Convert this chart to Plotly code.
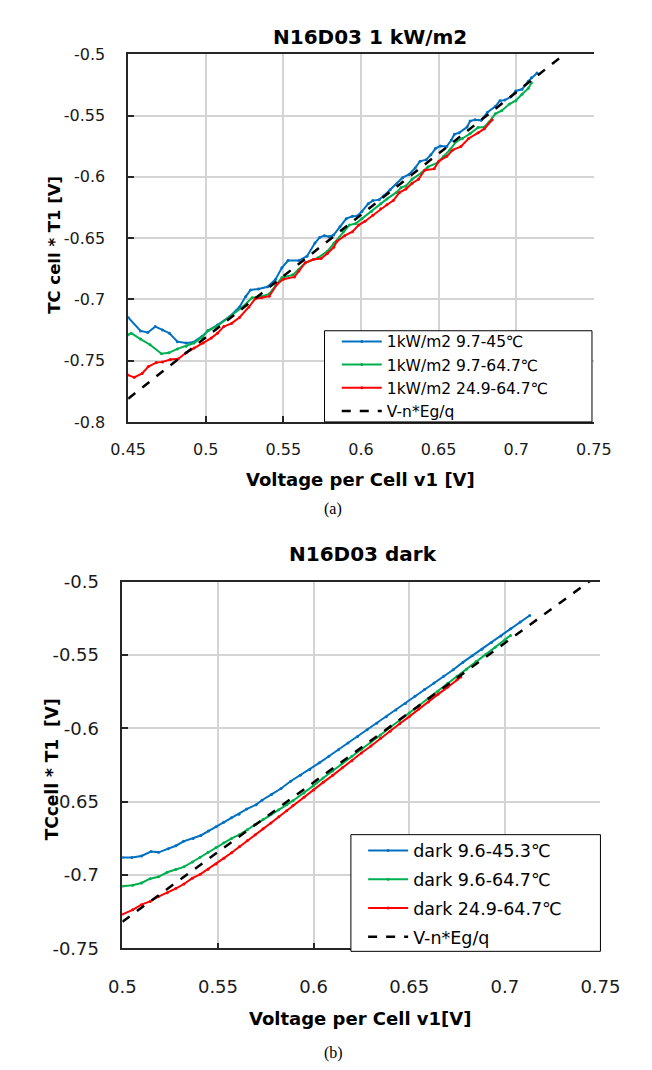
import plotly.graph_objects as go

W, H = 652, 1070

# ---------------- data : (a) 1 kW/m2 ----------------
a_blue_x = [0.450, 0.458, 0.4626, 0.4675, 0.4721, 0.4766, 0.4817, 0.4873, 0.4918, 0.4975, 0.5015, 0.5075,
            0.5157, 0.5217, 0.5257, 0.5288, 0.5339, 0.5399, 0.545, 0.549, 0.553, 0.560, 0.5652, 0.5703,
            0.5733, 0.5763, 0.5794, 0.5824, 0.5864, 0.5905, 0.5945, 0.5975, 0.6006, 0.6046, 0.6076, 0.6117,
            0.6147, 0.6188, 0.6228, 0.6268, 0.6309, 0.6349, 0.638, 0.642, 0.645, 0.6481, 0.6511, 0.6552,
            0.6582, 0.6602, 0.6632, 0.6683, 0.6703, 0.6734, 0.6774, 0.6815, 0.6865, 0.6895, 0.6926, 0.6966,
            0.6997, 0.7037, 0.7078, 0.7098, 0.7134]
a_blue_y = [-0.7147, -0.7257, -0.727, -0.7222, -0.7249, -0.7276, -0.7345, -0.7356, -0.735, -0.7302, -0.7254, -0.721,
            -0.7137, -0.7062, -0.6977, -0.6923, -0.6915, -0.6897, -0.6835, -0.6742, -0.6683, -0.6683, -0.6648, -0.654,
            -0.6496, -0.648, -0.6488, -0.6474, -0.6408, -0.6341, -0.6322, -0.632, -0.6282, -0.622, -0.6194, -0.6186,
            -0.6154, -0.6106, -0.606, -0.6007, -0.598, -0.5927, -0.5873, -0.586, -0.582, -0.5767, -0.5748, -0.5753,
            -0.570, -0.5652, -0.5641, -0.5593, -0.5545, -0.5534, -0.5539, -0.5473, -0.5427, -0.5379, -0.5374, -0.5347,
            -0.5299, -0.5286, -0.5219, -0.5192, -0.5152]

a_green_x = [0.450, 0.452, 0.458, 0.4641, 0.4715, 0.4762, 0.4817, 0.4873, 0.4924, 0.4975, 0.5015, 0.5075,
             0.5157, 0.5237, 0.5298, 0.5359, 0.5409, 0.545, 0.549, 0.5561, 0.560, 0.5641, 0.5722, 0.5783,
             0.5824, 0.5885, 0.5925, 0.5966, 0.6006, 0.6067, 0.6127, 0.6167, 0.6228, 0.6258, 0.6289, 0.6329,
             0.639, 0.6431, 0.6491, 0.6532, 0.6572, 0.6613, 0.6653, 0.6703, 0.6754, 0.6795, 0.6825, 0.6865,
             0.6906, 0.6956, 0.6997, 0.7037, 0.7078, 0.7098]
a_green_y = [-0.7289, -0.7276, -0.7324, -0.737, -0.7444, -0.7436, -0.7404, -0.7382, -0.7356, -0.7308, -0.7254, -0.7217,
             -0.7142, -0.7062, -0.6987, -0.6977, -0.6955, -0.6889, -0.6822, -0.680, -0.6755, -0.6701, -0.6661, -0.6608,
             -0.6545, -0.6448, -0.6394, -0.6381, -0.6341, -0.6282, -0.622, -0.618, -0.6127, -0.6087, -0.6074, -0.602,
             -0.5967, -0.5919, -0.5887, -0.5833, -0.578, -0.5713, -0.5687, -0.5647, -0.5598, -0.5593, -0.5553, -0.5486,
             -0.546, -0.5406, -0.5379, -0.5326, -0.5278, -0.5232]

a_red_x = [0.450, 0.4539, 0.459, 0.463, 0.4681, 0.4721, 0.4772, 0.4823, 0.4873, 0.4924, 0.4984, 0.5035,
           0.5075, 0.5116, 0.5166, 0.5217, 0.5278, 0.5318, 0.5359, 0.5409, 0.546, 0.550, 0.5571, 0.560,
           0.5641, 0.5692, 0.5743, 0.5783, 0.5824, 0.5844, 0.5895, 0.5945, 0.5985, 0.6026, 0.6076, 0.6127,
           0.6167, 0.6208, 0.6248, 0.6289, 0.6329, 0.637, 0.641, 0.6471, 0.6501, 0.6552, 0.6592, 0.6643,
           0.6693, 0.6754, 0.6795, 0.6845]
a_red_y = [-0.7618, -0.7636, -0.7604, -0.7548, -0.7516, -0.751, -0.749, -0.7484, -0.7436, -0.7396, -0.7356, -0.7316,
           -0.7276, -0.7222, -0.7196, -0.7148, -0.7062, -0.6995, -0.6987, -0.6974, -0.6875, -0.6835, -0.6817, -0.6768,
           -0.6701, -0.6675, -0.6667, -0.6625, -0.6575, -0.6528, -0.648, -0.6448, -0.6394, -0.6362, -0.6314, -0.626,
           -0.6228, -0.6194, -0.6127, -0.610, -0.6052, -0.602, -0.5946, -0.5935, -0.5873, -0.5833, -0.578, -0.5753,
           -0.5687, -0.5641, -0.5607, -0.5534]

a_fit_x = [0.45, 0.75]
a_fit_y = [-0.781, -0.481]

# ---------------- data : (b) dark ----------------
b_blue_x = [0.500, 0.505, 0.510, 0.515, 0.519, 0.524, 0.528, 0.532, 0.537, 0.541, 0.545, 0.549, 0.553, 0.557,
            0.561, 0.565, 0.570, 0.573, 0.578, 0.583, 0.588, 0.593, 0.598, 0.603, 0.608, 0.613, 0.618, 0.623,
            0.628, 0.633, 0.638, 0.643, 0.648, 0.653, 0.658, 0.663, 0.668, 0.673, 0.678, 0.683, 0.688, 0.693,
            0.698, 0.703, 0.708, 0.713]
b_blue_y = [-0.688, -0.688, -0.687, -0.684, -0.6845, -0.682, -0.680, -0.677, -0.675, -0.673, -0.670, -0.667, -0.664,
            -0.661, -0.6585, -0.655, -0.652, -0.649, -0.645, -0.641, -0.636, -0.632, -0.628, -0.6235, -0.619, -0.6145,
            -0.610, -0.6055, -0.601, -0.5965, -0.592, -0.5875, -0.583, -0.578, -0.5735, -0.569, -0.5645, -0.560,
            -0.555, -0.5505, -0.546, -0.5415, -0.537, -0.532, -0.5275, -0.523]

b_green_x = [0.500, 0.5054, 0.510, 0.5145, 0.5189, 0.5235, 0.5279, 0.5322, 0.5366, 0.5407, 0.5448, 0.549, 0.5531,
             0.5571, 0.5613, 0.5654, 0.5695, 0.5736, 0.5777, 0.5818, 0.5859, 0.5892, 0.595, 0.600, 0.605, 0.610,
             0.615, 0.620, 0.625, 0.630, 0.635, 0.640, 0.645, 0.650, 0.655, 0.660, 0.665, 0.670, 0.675, 0.680,
             0.685, 0.690, 0.695, 0.700, 0.703]
b_green_y = [-0.7076, -0.7069, -0.7054, -0.7025, -0.7012, -0.6981, -0.6962, -0.6944, -0.6911, -0.6878, -0.6845, -0.6812,
             -0.6779, -0.675, -0.6724, -0.6691, -0.6653, -0.662, -0.6587, -0.6554, -0.6521, -0.6493, -0.644, -0.639,
             -0.6338, -0.629, -0.6238, -0.619, -0.6142, -0.6093, -0.6045, -0.5994, -0.5946, -0.5895, -0.5846, -0.5795,
             -0.5746, -0.5694, -0.5645, -0.5596, -0.5544, -0.5496, -0.5446, -0.5396, -0.5366]

b_red_x = [0.500, 0.5054, 0.510, 0.5145, 0.5189, 0.5235, 0.5279, 0.5322, 0.5366, 0.5407, 0.5448, 0.549, 0.5531,
           0.5571, 0.5613, 0.5654, 0.5695, 0.5736, 0.5777, 0.5818, 0.5859, 0.5892, 0.595, 0.600, 0.605, 0.610,
           0.615, 0.620, 0.625, 0.630, 0.635, 0.640, 0.645, 0.650, 0.655, 0.660, 0.665, 0.670, 0.675, 0.677]
b_red_y = [-0.7268, -0.7237, -0.7202, -0.718, -0.7147, -0.712, -0.7092, -0.7061, -0.7021, -0.6995, -0.696, -0.6925,
           -0.6885, -0.6848, -0.6805, -0.6765, -0.6725, -0.6685, -0.6645, -0.6603, -0.6562, -0.6526, -0.647, -0.642,
           -0.6368, -0.632, -0.6268, -0.622, -0.6168, -0.612, -0.6068, -0.602, -0.5968, -0.592, -0.5868, -0.582,
           -0.5768, -0.572, -0.5668, -0.565]

b_fit_x = [0.50, 0.75]
b_fit_y = [-0.7318, -0.4943]

# ---------------- labels ----------------
a_names = ["1kW/m2 9.7-45\u2103", "1kW/m2 9.7-64.7\u2103", "1kW/m2 24.9-64.7\u2103", "V-n*Eg/q"]
b_names = ["dark 9.6-45.3\u2103", "dark 9.6-64.7\u2103", "dark 24.9-64.7\u2103", "V-n*Eg/q"]
a_xticks = [0.45, 0.5, 0.55, 0.6, 0.65, 0.7, 0.75]
a_xtext = ["0.45", "0.5", "0.55", "0.6", "0.65", "0.7", "0.75"]
a_yticks = [-0.5, -0.55, -0.6, -0.65, -0.7, -0.75, -0.8]
a_ytext = ["-0.5", "-0.55", "-0.6", "-0.65", "-0.7", "-0.75", "-0.8"]
b_xticks = [0.5, 0.55, 0.6, 0.65, 0.7, 0.75]
b_xtext = ["0.5", "0.55", "0.6", "0.65", "0.7", "0.75"]
b_yticks = [-0.5, -0.55, -0.6, -0.65, -0.7, -0.75]
b_ytext = ["-0.5", "-0.55", "-0.6", "-0.65", "-0.7", "-0.75"]

COLORS = ["#0070C0", "#00B050", "#FF0000"]
FONT = "DejaVu Sans"


def px(x):
    return x / W


def py(y):
    return 1 - y / H


fig = go.Figure()

a_series = [(a_blue_x, a_blue_y), (a_green_x, a_green_y), (a_red_x, a_red_y)]
b_series = [(b_blue_x, b_blue_y), (b_green_x, b_green_y), (b_red_x, b_red_y)]

for i, (xs, ys) in enumerate(a_series):
    fig.add_trace(go.Scatter(x=xs, y=ys, mode="lines+markers", name=a_names[i],
                             line=dict(color=COLORS[i], width=2), marker=dict(size=3, color=COLORS[i]),
                             xaxis="x", yaxis="y", legend="legend", legendgroup="a%d" % i))
fig.add_trace(go.Scatter(x=a_fit_x, y=a_fit_y, mode="lines", name=a_names[3],
                         line=dict(color="black", width=2.5, dash="dash"),
                         xaxis="x", yaxis="y", legend="legend", legendgroup="a3"))

for i, (xs, ys) in enumerate(b_series):
    fig.add_trace(go.Scatter(x=xs, y=ys, mode="lines+markers", name=b_names[i],
                             line=dict(color=COLORS[i], width=2), marker=dict(size=3, color=COLORS[i]),
                             xaxis="x2", yaxis="y2", legend="legend2", legendgroup="b%d" % i))
fig.add_trace(go.Scatter(x=b_fit_x, y=b_fit_y, mode="lines", name=b_names[3],
                         line=dict(color="black", width=2.5, dash="dash"),
                         xaxis="x2", yaxis="y2", legend="legend2", legendgroup="b3"))


def axis_style(fs):
    return dict(showline=True, linecolor="#262626", linewidth=1.5, ticks="inside", ticklen=6,
                tickcolor="#262626", tickwidth=1.5, showgrid=True, gridcolor="#d4d4d4", gridwidth=1.5,
                zeroline=False, tickfont=dict(family=FONT, size=fs, color="#1a1a1a"))


fig.update_layout(
    width=W, height=H, margin=dict(l=0, r=0, t=0, b=0),
    paper_bgcolor="white", plot_bgcolor="white",
    font=dict(family=FONT, color="black"),
    xaxis=dict(domain=[px(108.5), px(603)], anchor="y", range=[0.45, 0.75], tickvals=a_xticks,
               ticktext=a_xtext, mirror=True, ticklabelstandoff=12, **axis_style(16)),
    yaxis=dict(domain=[py(411), py(36)], anchor="x", range=[-0.8, -0.5], tickvals=a_yticks,
               ticktext=a_ytext, ticklabelstandoff=18, **axis_style(16)),
    xaxis2=dict(domain=[px(102.3), px(610)], anchor="y2", range=[0.5, 0.75], tickvals=b_xticks,
                ticktext=b_xtext, mirror=True, ticklabelstandoff=21, **axis_style(18)),
    yaxis2=dict(domain=[py(948), py(574)], anchor="x2", range=[-0.75, -0.5], tickvals=b_yticks,
                ticktext=b_ytext, ticklabelstandoff=18, **axis_style(18)),
    legend=dict(x=px(330), y=py(312), xanchor="left", yanchor="top", bgcolor="rgba(0,0,0,0)",
                borderwidth=0, font=dict(family=FONT, size=15.5, color="black"), tracegroupgap=0,
                itemwidth=40),
    legend2=dict(x=px(358), y=py(830), xanchor="left", yanchor="top", bgcolor="rgba(0,0,0,0)",
                 borderwidth=0, font=dict(family=FONT, size=17.5, color="black"), tracegroupgap=3,
                 itemwidth=40),
    shapes=[
        dict(type="rect", xref="paper", yref="paper", x0=px(317), x1=px(601), y0=py(411), y1=py(318),
             fillcolor="white", line=dict(color="black", width=1), layer="above"),
        dict(type="rect", xref="paper", yref="paper", x0=px(345), x1=px(610), y0=py(951), y1=py(832),
             fillcolor="white", line=dict(color="black", width=1), layer="above"),
    ],
)

ann = [
    dict(text="<b>N16D03 1 kW/m2</b>", x=px(365), y=py(18), size=20, family=FONT, angle=0),
    dict(text="<b>Voltage per Cell v1 [V]</b>", x=px(355), y=py(470), size=18, family=FONT, angle=0),
    dict(text="<b>TC cell * T1 [V]</b>", x=px(30), y=py(230), size=16.5, family=FONT, angle=-90),
    dict(text="(a)", x=px(326), y=py(500), size=16, family="Liberation Serif", angle=0),
    dict(text="<b>N16D03 dark</b>", x=px(358), y=py(546), size=20, family=FONT, angle=0),
    dict(text="<b>Voltage per Cell v1[V]</b>", x=px(355), y=py(1020), size=18, family=FONT, angle=0),
    dict(text="<b>TCcell * T1 \u00a0[V]</b>", x=px(28), y=py(765), size=17, family=FONT, angle=-90),
    dict(text="(b)", x=px(326), y=py(1055), size=16, family="Liberation Serif", angle=0),
]
for a in ann:
    fig.add_annotation(text=a["text"], x=a["x"], y=a["y"], xref="paper", yref="paper",
                       xanchor="center", yanchor="middle", showarrow=False, textangle=a["angle"],
                       font=dict(family=a["family"], size=a["size"], color="black"))

fig.write_html("out.html")
